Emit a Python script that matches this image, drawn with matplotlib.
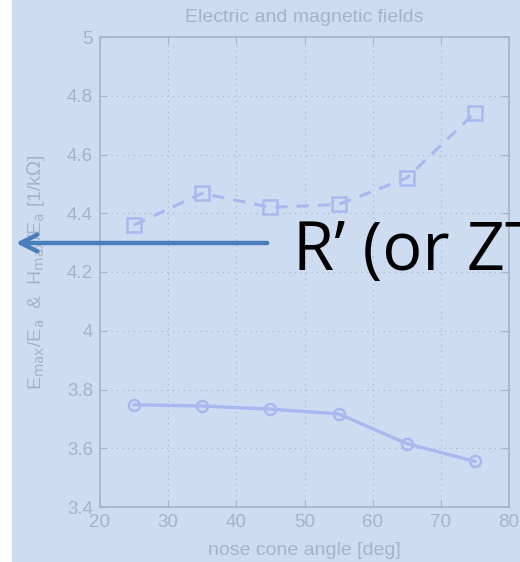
import matplotlib.pyplot as plt
from matplotlib.patches import Rectangle

BG = '#cddcf1'
GREY = '#a8b3c6'
LINE = '#a9b8ef'
ARROW = '#4a7ebb'

angles = [25, 35, 45, 55, 65, 75]
h_over_e = [4.36, 4.468, 4.42, 4.43, 4.52, 4.742]
e_over_e = [3.748, 3.744, 3.733, 3.717, 3.616, 3.555]
xticks = [20, 30, 40, 50, 60, 70, 80]
yticks = [3.4, 3.6, 3.8, 4.0, 4.2, 4.4, 4.6, 4.8, 5.0]
ytick_labels = ['3.4', '3.6', '3.8', '4', '4.2', '4.4', '4.6', '4.8', '5']

plt.rcParams['font.family'] = ['Liberation Sans', 'DejaVu Sans']

fig = plt.figure(figsize=(5.2, 5.62), dpi=100, facecolor=BG)
# white strip on the left edge
fig.patches.append(Rectangle((0, 0), 12 / 520, 1, transform=fig.transFigure,
                             facecolor='white', edgecolor='none', zorder=0))

ax = fig.add_axes([100 / 520, 55 / 562, 409 / 520, 470 / 562])
ax.set_facecolor(BG)

ax.plot(angles, h_over_e, color=LINE, lw=2.2, ls=(0, (4, 3)), marker='s', ms=10,
        mfc='none', mec=LINE, mew=1.8)
ax.plot(angles, e_over_e, color=LINE, lw=2.4, marker='o', ms=8,
        mfc='none', mec=LINE, mew=1.8)

ax.set_xlim(20, 80)
ax.set_ylim(3.4, 5.0)
ax.set_xticks(xticks)
ax.set_yticks(yticks)
ax.set_yticklabels(ytick_labels)
ax.grid(True, ls=(0, (1, 4)), color=GREY, lw=0.8)
ax.tick_params(direction='in', top=True, right=True, colors=GREY,
               labelcolor=GREY, labelsize=13.5, length=5, pad=5)
for s in ax.spines.values():
    s.set_color(GREY)
    s.set_linewidth(1.2)

ax.set_title('Electric and magnetic fields', color=GREY, fontsize=14, pad=11)
ax.set_xlabel('nose cone angle [deg]', color=GREY, fontsize=14, labelpad=8)
ax.set_ylabel(r'E$_{\rm max}$/E$_{\rm a}$  &  H$_{\rm max}$/E$_{\rm a}$ [1/k$\Omega$]',
              color=GREY, fontsize=14, labelpad=14)

ax.annotate('', xy=(13, 562 - 243), xytext=(270, 562 - 243),
            xycoords='figure pixels', textcoords='figure pixels',
            arrowprops=dict(arrowstyle='->,head_length=1.2,head_width=0.6',
                            color=ARROW, lw=3.2))
fig.text(293 / 520, 1 - 270 / 562, 'R’ (or ZT', fontsize=48, color='black',
         family=['Open Sans', 'DejaVu Sans'], ha='left', va='baseline')

fig.savefig('out.png', dpi=100, facecolor=BG)
